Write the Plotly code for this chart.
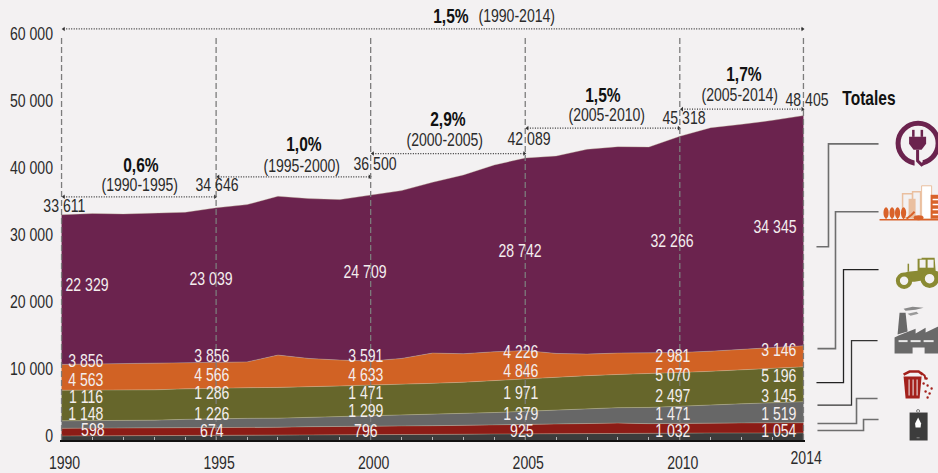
import plotly.graph_objects as go

years = list(range(1990, 2015))
fuel = [598,610,620,640,660,674,700,710,740,770,796,810,830,860,890,925,950,980,1010,990,1032,1040,1040,1050,1054]
waste = [1148,1150,1170,1190,1200,1226,1230,1190,1240,1280,1299,1290,1300,1330,1360,1379,1400,1450,1510,1450,1471,1500,1510,1510,1519]
industry = [1116,1110,1110,1130,1220,1286,1300,1360,1400,1430,1471,1550,1650,1730,1850,1971,2100,2220,2310,2420,2497,2680,2850,3000,3145]
agriculture = [4563,4560,4540,4520,4550,4566,4570,4590,4520,4580,4633,4650,4670,4700,4780,4846,4900,4950,4950,5020,5070,5030,5080,5090,5196]
residential = [3856,3920,3940,3970,3870,3856,3850,4820,4270,3860,3591,3870,4520,4250,4285,4226,3570,3220,3190,3120,2981,3000,3020,3050,3146]
energy = [22329,22450,22350,22380,22480,23039,23470,23700,23850,23950,24709,25040,25480,26680,27875,28742,29460,30550,30800,30720,32266,33350,33600,33990,34345]

series_names = ["Combustibles", "Residuos", "Industria", "Agricultura", "Residencial", "Energía"]
series_values = [fuel, waste, industry, agriculture, residential, energy]
series_colors = ["#3c3c3c", "#8c1c16", "#676767", "#66662b", "#d16224", "#6b234e"]

y_ticks = [0, 10000, 20000, 30000, 40000, 50000, 60000]
x_label_years = [1990, 1995, 2000, 2005, 2010]
marked_years = [1990, 1995, 2000, 2005, 2010, 2014]
marked_totals = ["33 611", "34 646", "36 500", "42 089", "45 318", "48 405"]

rates = ["0,6%", "1,0%", "2,9%", "1,5%", "1,7%"]
periods = ["(1990-1995)", "(1995-2000)", "(2000-2005)", "(2005-2010)", "(2005-2014)"]
overall_rate = "1,5%"
overall_period = "(1990-2014)"
side_title = "Totales"

W, H = 938, 473
X0, XS = 62.0, 741.0 / 24
Y0, YS = 440.5, 0.00671
xpad = 0.05
ml = X0 - xpad * XS
pw = (24 + 2 * xpad) * XS
mr = W - ml - pw
mt = 5
ph = Y0 - mt
ytop = ph / YS
FONT = "Liberation Sans, Arial, sans-serif"
TXT = "#2b2b2b"
BG = "#f3f1f2"
BASE = 19


def fmt(v):
    return f"{v:,}".replace(",", " ")


def px(x):
    return (x - ml) / pw


def py(y):
    return (Y0 - y) / ph


fig = go.Figure()
for n, v, c in zip(series_names, series_values, series_colors):
    fig.add_trace(go.Scatter(x=years, y=v, name=n, mode="lines", stackgroup="a",
                             line=dict(color="rgba(205,200,170,0.35)", width=1),
                             fillcolor=c, showlegend=False, hoverinfo="x+y"))

conn_py = [197, 177, 153.7, 128.3, 109.3]
spans = [(1990, 1995), (1995, 2000), (2000, 2005), (2005, 2010), (2010, 2014), (1990, 2014)]
for (a, b), yy in zip(spans, conn_py + [29]):
    val = (Y0 - yy) / YS
    fig.add_trace(go.Scatter(x=[a + 0.07, b - 0.03], y=[val, val], mode="lines+markers",
                             line=dict(color="#333", width=1.2, dash="1px 1.5px"),
                             marker=dict(symbol=["triangle-left", "triangle-right"], size=4, color="#333"),
                             showlegend=False, hoverinfo="skip"))

shapes = []
for yr in marked_years:
    shapes.append(dict(type="line", xref="x", yref="y", x0=yr, x1=yr, y0=0, y1=(Y0 - 38) / YS,
                       line=dict(color="#7c7c7c", width=1.3, dash="6px 3px"), layer="above"))


def path(points, color, width=1.6, fill=None, close=False):
    d = "M " + " L ".join(f"{px(a):.5f},{py(b):.5f}" for a, b in points) + (" Z" if close else "")
    shapes.append(dict(type="path", xref="paper", yref="paper", path=d,
                       line=dict(color=color, width=width) if width else dict(width=0),
                       fillcolor=fill if fill else "rgba(0,0,0,0)"))


def rect(a, b, c, d, fill, line=None, lw=0):
    shapes.append(dict(type="rect", xref="paper", yref="paper", x0=px(a), x1=px(c), y0=py(b), y1=py(d),
                       fillcolor=fill, line=dict(color=line or fill, width=lw)))


def oval(cx, cy, rx, ry, fill, line=None, lw=0):
    shapes.append(dict(type="circle", xref="paper", yref="paper", x0=px(cx - rx), x1=px(cx + rx),
                       y0=py(cy - ry), y1=py(cy + ry), fillcolor=fill,
                       line=dict(color=line or fill, width=lw)))


# leader lines
path([(816, 247), (828, 247), (828, 144), (878, 144)], "#6e6e6e")
path([(817, 349), (835, 349), (835, 212), (878, 212)], "#6e6e6e")
path([(816, 383), (843, 383), (843, 270), (878, 270)], "#222", 1.3)
path([(817, 405.5), (851, 405.5), (851, 341), (877, 341)], "#333", 1.3)
path([(817, 424), (856, 424), (856, 399), (877, 399)], "#6e6e6e")
path([(817, 431), (863, 431), (863, 420), (878, 420)], "#6e6e6e")

# plug icon
P = "#6b234e"
oval(917.5, 143.5, 20, 20, BG, P, 5)
rect(914, 160, 922, 168, BG)
rect(911.5, 130, 914, 137, P)
rect(920, 130, 922.5, 137, P)
path([(908.5, 137), (925.5, 137), (925.5, 144), (921, 150), (913, 150), (908.5, 144)], P, 0, P, True)
path([(917, 150), (917, 161), (921, 165), (928, 160)], P, 3)

# city icon
O = "#d9622a"
L = "#eabf9f"
rect(902, 194, 912, 218, BG, L, 1.5)
rect(912, 192, 920, 218, BG, L, 1.5)
rect(908, 199, 915, 218, L)
rect(921, 186, 931, 219, "#ffffff", L, 1)
rect(930, 195, 938, 219, O)
for yy in [199, 204, 209, 214]:
    rect(932, yy, 938, yy + 1.5, "#ffffff")
for xx in [885.5, 891.5, 897, 903]:
    oval(xx, 213, 2.6, 5.5, O)
    rect(xx - 0.5, 217, xx + 0.5, 220, O)
oval(918, 218, 5, 2.5, O)
path([(906, 219), (911, 215), (914, 212)], O, 2)
rect(879, 219.2, 938, 220.8, O)

# tractor icon
T = "#8a8a33"
path([(917, 259), (921, 259), (921, 258), (934, 258), (935, 271), (938, 272), (938, 278), (914, 282), (907, 282), (899, 275), (907, 272), (917, 271)], T, 0, T, True)
rect(919, 260, 925, 268, BG)
rect(927, 260, 933, 268, BG)
rect(907, 264, 908.5, 272, T)
oval(903.5, 281, 6.2, 6.2, BG, T, 4)
oval(929, 279, 7, 7, BG, T, 4.5)

# factory icon
G = "#696969"
path([(899, 313), (905, 313), (907, 332), (897, 335)], G, 0, G, True)
path([(903, 309), (912, 307), (923, 308), (915, 310), (905, 311)], G, 0, "#8a8a8a", True)
path([(907, 314), (916, 312), (918, 314), (910, 316)], G, 0, "#9a9a9a", True)
path([(894, 338), (898, 336), (915, 329), (915, 334), (925, 328), (925, 333), (937, 327), (938, 327), (938, 354), (924, 354), (924, 348), (912, 348), (912, 354), (894, 354)], G, 0, G, True)
for a, b in [(898, 907), (910, 920), (923, 933)]:
    rect(a, 340.5, b, 342.5, "#e8e8e8")

# bin icon
R = "#a3211c"
path([(903, 377), (921, 377), (919, 399), (905, 399)], R, 0, R, True)
path([(903, 375), (909, 372), (918, 372), (922, 375)], R, 2.5)
rect(908, 380, 909, 396, BG)
rect(912, 380, 913, 396, BG)
rect(916, 380, 917, 396, BG)
path([(920, 373), (924, 376), (925, 380)], R, 2)
for a, b in [(923, 384), (927, 386), (925, 392), (929, 394), (927, 398), (931, 389), (926, 379)]:
    oval(a, b, 1.2, 1.2, R)

# canister icon
C = "#3c3c3c"
rect(909, 413, 927, 441, C)
oval(917.5, 411.5, 1.5, 1.5, BG, "#777", 1)
path([(917.5, 418), (920.5, 424), (920, 428), (915, 428), (914.5, 424)], "#fff", 0, "#fff", True)
rect(916, 438, 919, 438.7, "#aaa")

ann = []


def text(x, y, t, size=BASE, color=TXT, bold=False, anchor="center"):
    if bold:
        t = f"<b>{t}</b>"
    ann.append(dict(xref="paper", yref="paper", x=px(x), y=py(y), text=t, showarrow=False,
                    xanchor=anchor, yanchor="middle", font=dict(family=FONT, size=size, color=color)))


rate_pos = [(141, 165), (304, 144), (448, 119), (603, 95), (744, 74)]
period_pos = [(140, 185), (302, 166), (445, 140), (607, 115), (740, 95)]
for t, p in zip(rates, rate_pos):
    text(p[0], p[1], t, 21, "#111", True)
for t, p in zip(periods, period_pos):
    text(p[0], p[1], t, BASE)
text(451, 16, overall_rate, 21, "#111", True)
text(517, 16, overall_period, BASE)

total_pos = [(65, 206), (217, 185), (375, 164), (529, 139), (684, 118), (807, 100)]
for t, p in zip(marked_totals, total_pos):
    text(p[0], p[1], t, BASE)
text(868, 98, side_title, 21, "#111", True)
text(806, 458, "2014", BASE)

col_x = [86, 212, 366, 521, 673, 779]
energy_pos = [(87, 285), (211, 279), (365, 272), (520, 251), (672, 241), (775, 227)]
label_y = [
    [430, 414, 396.6, 379.5, 361],
    [431, 414, 393, 375, 355.6],
    [431, 411, 393, 374.6, 356],
    [431, 414, 393, 371, 352],
    [431, 414, 396, 375, 356],
    [431, 414, 396, 376, 350],
]
small_shift = [7, 0, 0, 1, 0, 0]
WH = "#f4eeee"
for k, yr in enumerate(marked_years):
    i = years.index(yr)
    for s, ypos in enumerate(label_y[k]):
        v = series_values[s][i]
        text(col_x[k] + (small_shift[k] if s == 0 else 0), ypos, fmt(v), BASE, WH)
    text(energy_pos[k][0], energy_pos[k][1], fmt(energy[i]), BASE, WH)

fig.update_layout(
    width=W, height=H, autosize=False, paper_bgcolor=BG, plot_bgcolor=BG,
    margin=dict(l=ml, r=mr, t=mt, b=H - Y0, pad=0, autoexpand=False),
    showlegend=False, shapes=shapes, annotations=ann,
    font=dict(family=FONT, size=BASE, color=TXT),
    xaxis=dict(range=[1990 - xpad, 2014 + xpad], tickmode="array", tickvals=years,
               ticktext=[str(y) if y in x_label_years else "" for y in years],
               ticks="inside", ticklen=3, tickcolor="#b5b5b5", tickwidth=1, automargin=False,
               showline=True, linecolor="#111", linewidth=2, showgrid=False, zeroline=False,
               ticklabelshift=3, ticklabelstandoff=4, tickfont=dict(size=BASE, color=TXT)),
    yaxis=dict(range=[0, ytop], tickmode="array", tickvals=y_ticks, automargin=False,
               ticktext=[fmt(v) for v in y_ticks], showgrid=False, zeroline=False, showline=False,
               ticks="", ticklabelshift=-5, ticklabelstandoff=6, tickfont=dict(size=BASE, color=TXT)),
)

narrow = """
document.body.style.margin='0';
function narrowText(){
  document.querySelectorAll('svg text').forEach(function(el){
    if(el.dataset.nw||!el.textContent.trim())return;
    var w=el.getComputedTextLength();
    if(!w)return;
    el.dataset.nw='1';
    el.setAttribute('textLength',(w*0.74).toFixed(2));
    el.setAttribute('lengthAdjust','spacingAndGlyphs');
  });
}
narrowText();setTimeout(narrowText,50);setTimeout(narrowText,300);
"""
fig.write_html("out.html", post_script=narrow, config={"displayModeBar": False})
